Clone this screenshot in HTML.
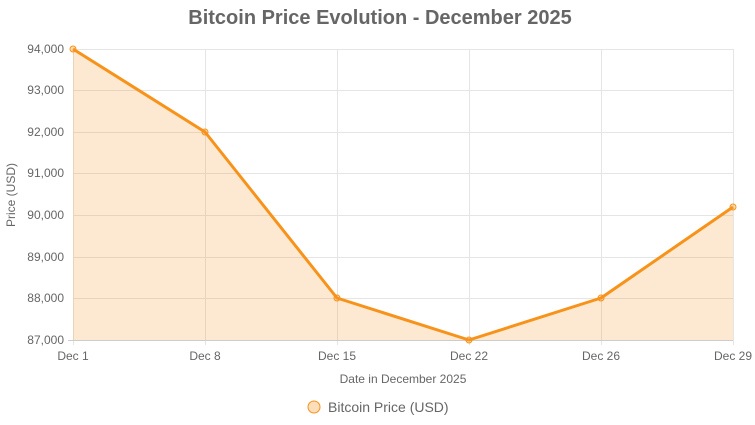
<!DOCTYPE html>
<html><head><meta charset="utf-8"><style>
html,body{margin:0;padding:0;background:#fff;}
svg{display:block;font-family:"Liberation Sans",Arial,sans-serif;}
</style></head><body>
<svg width="755" height="425" viewBox="0 0 755 425">
<text x="380" y="24" text-anchor="middle" font-size="20" font-weight="bold" fill="#666">Bitcoin Price Evolution - December 2025</text>
<g stroke="#e5e5e5" stroke-width="1">
<line x1="73" y1="49.5" x2="733" y2="49.5"/>
<line x1="73" y1="90.5" x2="733" y2="90.5"/>
<line x1="73" y1="132.5" x2="733" y2="132.5"/>
<line x1="73" y1="173.5" x2="733" y2="173.5"/>
<line x1="73" y1="215.5" x2="733" y2="215.5"/>
<line x1="73" y1="257.5" x2="733" y2="257.5"/>
<line x1="73" y1="298.5" x2="733" y2="298.5"/>
<line x1="73.5" y1="49" x2="73.5" y2="345"/>
<line x1="205.5" y1="49" x2="205.5" y2="345"/>
<line x1="337.5" y1="49" x2="337.5" y2="345"/>
<line x1="469.5" y1="49" x2="469.5" y2="345"/>
<line x1="601.5" y1="49" x2="601.5" y2="345"/>
<line x1="733.5" y1="49" x2="733.5" y2="345"/>
<line x1="68" y1="340.5" x2="733" y2="340.5" stroke="#ccc"/>
</g>
<polygon points="73,49 205,132 337,298 469,340 601,298 733,207 733,340 73,340" fill="rgba(247,147,26,0.2)"/>
<polyline points="73,49 205,132 337,298 469,340 601,298 733,207" fill="none" stroke="#f7931a" stroke-width="3" stroke-linejoin="round"/>
<g fill="rgba(247,147,26,0.3)" stroke="#f7931a" stroke-width="1">
<circle cx="73" cy="49" r="3"/><circle cx="205" cy="132" r="3"/><circle cx="337" cy="298" r="3"/>
<circle cx="469" cy="340" r="3"/><circle cx="601" cy="298" r="3"/><circle cx="733" cy="207" r="3"/>
</g>
<g font-size="12" fill="#666" text-anchor="end">
<text x="64" y="53">94,000</text><text x="64" y="94">93,000</text><text x="64" y="136">92,000</text>
<text x="64" y="177">91,000</text><text x="64" y="219">90,000</text><text x="64" y="261">89,000</text>
<text x="64" y="302">88,000</text><text x="64" y="344">87,000</text>
</g>
<g font-size="12" fill="#666" text-anchor="middle">
<text x="73" y="360">Dec 1</text><text x="205" y="360">Dec 8</text><text x="337" y="360">Dec 15</text>
<text x="469" y="360">Dec 22</text><text x="601" y="360">Dec 26</text><text x="733" y="360">Dec 29</text>
<text x="403" y="383">Date in December 2025</text>
</g>
<text transform="translate(15,195) rotate(-90)" font-size="12" fill="#666" text-anchor="middle">Price (USD)</text>
<circle cx="314" cy="407" r="6" fill="rgba(247,147,26,0.3)" stroke="#f7931a" stroke-width="1"/>
<text x="328" y="412" font-size="14" fill="#666">Bitcoin Price (USD)</text>
</svg>
</body></html>
